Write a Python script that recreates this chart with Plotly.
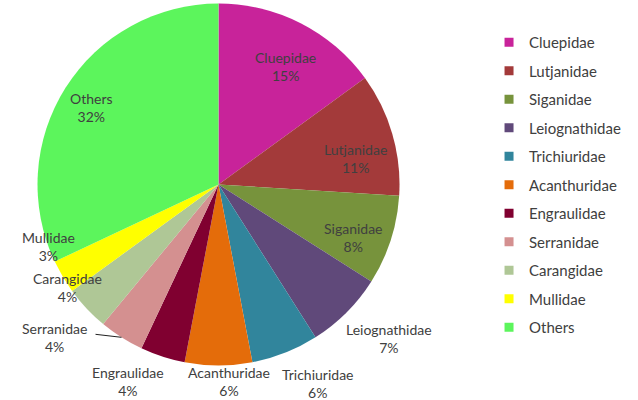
import math
import plotly.graph_objects as go

families = ["Cluepidae", "Lutjanidae", "Siganidae", "Leiognathidae", "Trichiuridae",
            "Acanthuridae", "Engraulidae", "Serranidae", "Carangidae", "Mullidae", "Others"]
shares = [15, 11, 8, 7, 6, 6, 4, 4, 4, 3, 32]
colors = ["#C8239A", "#A33A3A", "#77933C", "#60497A", "#31859C",
          "#E46C0A", "#800030", "#D49090", "#AFC796", "#FFFF00", "#5CF55C"]
# label placement style: (radial factor, angular nudge in degrees) per slice
label_radius = [0.75, 0.77, 0.80, 1.27, 1.23, 1.09, 1.20, 1.24, 1.01, 1.00, 0.82]
label_nudge = [2.5, 5.6, 3.5, -3.0, -5.0, -3.0, 6.7, 14.6, 9.0, 10.6, -1.0]

W, H = 638, 400
dom_x = [0.0588, 0.6262]
dom_y = [0.08625, 0.99125]
font_family = "Lato, 'Open Sans', sans-serif"
text_color = "#404040"

fig = go.Figure()
fig.add_trace(go.Pie(
    labels=families, values=shares, sort=False, direction="clockwise", rotation=0,
    marker=dict(colors=colors, line=dict(width=0)),
    textinfo="none", domain=dict(x=dom_x, y=dom_y),
    showlegend=False, hoverinfo="label+percent",
))

for i, (name, col) in enumerate(zip(families, colors)):
    fig.add_trace(go.Scatter(
        x=[None], y=[None], mode="markers", name=name, legendgroup=f"g{i}",
        marker=dict(symbol="square", size=9, color=col), showlegend=True,
    ))

# slice labels placed from the data's angles
cx = W * (dom_x[0] + dom_x[1]) / 2
cy = H * (1 - (dom_y[0] + dom_y[1]) / 2)
r = min(W * (dom_x[1] - dom_x[0]), H * (dom_y[1] - dom_y[0])) / 2
total = sum(shares)
cum = 0
annotations = []
shapes = []
for name, v, f, nudge in zip(families, shares, label_radius, label_nudge):
    mid = (cum + v / 2) / total * 360
    cum += v
    th = math.radians(mid + nudge)
    px = cx + f * r * math.sin(th)
    py = cy - f * r * math.cos(th)
    pct = round(v / total * 100)
    annotations.append(dict(
        x=px / W, y=1 - py / H, xref="paper", yref="paper",
        text=f"{name}<br>{pct}%", showarrow=False,
        xanchor="center", yanchor="middle", align="center",
        font=dict(family=font_family, size=14, color=text_color),
    ))
    if name == "Serranidae":
        tm = math.radians(mid)
        ex = cx + r * math.sin(tm)
        ey = cy - r * math.cos(tm)
        shapes.append(dict(type="line", xref="paper", yref="paper",
                           x0=ex / W, y0=1 - ey / H,
                           x1=(ex - 26) / W, y1=1 - (ey - 3) / H,
                           line=dict(color="#202020", width=1)))

fig.update_layout(
    width=W, height=H,
    margin=dict(l=0, r=0, t=0, b=0, autoexpand=False),
    paper_bgcolor="white", plot_bgcolor="white",
    xaxis=dict(visible=False), yaxis=dict(visible=False),
    legend=dict(x=0.7665, y=0.935, xanchor="left", yanchor="top",
                font=dict(family=font_family, size=15, color=text_color),
                tracegroupgap=6, itemwidth=30, bgcolor="rgba(0,0,0,0)"),
    font=dict(family=font_family, color=text_color),
    annotations=annotations, shapes=shapes,
)

fig.write_html("out.html", config={"displayModeBar": False},
               post_script="document.body.style.margin='0';")
